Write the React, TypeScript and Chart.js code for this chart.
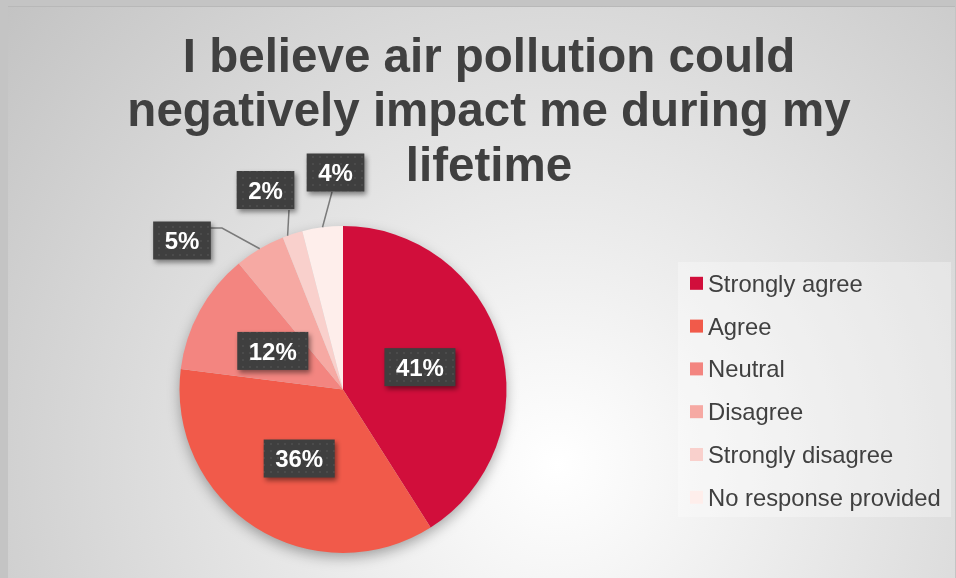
import React, { useEffect, useRef } from "react";
import { Chart, registerables } from "chart.js";

Chart.register(...registerables);

const categories = [
  "Strongly agree",
  "Agree",
  "Neutral",
  "Disagree",
  "Strongly disagree",
  "No response provided",
];
const values = [41, 36, 12, 5, 2, 4];
const valueLabels = ["41%", "36%", "12%", "5%", "2%", "4%"];
const titleLines = [
  "I believe air pollution could",
  "negatively impact me during my",
  "lifetime",
];
const colors = ["#D10E3B", "#F15A4A", "#F38580", "#F6A9A3", "#F9D0CC", "#FEEEEB"];

// label placement (style): inside at a fraction of radius, or outside box with a leader line
type Place =
  | { kind: "in"; r: number }
  | { kind: "out"; box: [number, number]; line: [number, number][]; frac: number };
const labelPlacement: Place[] = [
  { kind: "in", r: 0.49 },
  { kind: "in", r: 0.5 },
  { kind: "in", r: 0.49 },
  { kind: "out", box: [-161, -149], line: [[-133, -161.5], [-121, -161.5]], frac: 0.5 },
  { kind: "out", box: [-77.5, -199.5], line: [[-54, -179.5]], frac: 0.25 },
  { kind: "out", box: [-7.5, -217], line: [[-11, -197.5]], frac: 0.5 },
];

const FONT = '"Liberation Sans", Arial, Helvetica, sans-serif';

function makePattern(ctx: CanvasRenderingContext2D) {
  const c = document.createElement("canvas");
  c.width = 7;
  c.height = 7;
  const p = c.getContext("2d")!;
  p.fillStyle = "#3f3f3f";
  p.fillRect(0, 0, 7, 7);
  p.fillStyle = "#4b4b4b";
  p.fillRect(3, 3, 2, 2);
  return ctx.createPattern(c, "repeat") || "#404040";
}

const decorPlugin = {
  id: "decor",
  beforeDatasetsDraw(chart: any) {
    const ctx: CanvasRenderingContext2D = chart.ctx;
    const arc = chart.getDatasetMeta(0).data[0];
    if (!arc) return;
    const { x, y, outerRadius } = arc.getProps(["x", "y", "outerRadius"], true);
    ctx.save();
    ctx.shadowColor = "rgba(0,0,0,0.35)";
    ctx.shadowBlur = 14;
    ctx.shadowOffsetY = 5;
    ctx.fillStyle = "#cccccc";
    ctx.beginPath();
    ctx.arc(x, y, outerRadius - 1, 0, Math.PI * 2);
    ctx.fill();
    ctx.restore();
  },
  afterDraw(chart: any) {
    const ctx: CanvasRenderingContext2D = chart.ctx;
    const W = chart.width;
    // Title
    ctx.save();
    ctx.fillStyle = "#404040";
    ctx.font = `bold 47.5px ${FONT}`;
    ctx.textAlign = "center";
    ctx.textBaseline = "alphabetic";
    const baselines = [66, 120, 175];
    titleLines.forEach((t, i) => ctx.fillText(t, 481, baselines[i]));
    ctx.restore();

    // Legend
    ctx.save();
    ctx.fillStyle = "rgba(255,255,255,0.3)";
    ctx.fillRect(670, 256, W - 674, 255);
    ctx.font = `23.8px ${FONT}`;
    ctx.textAlign = "left";
    ctx.textBaseline = "alphabetic";
    categories.forEach((c, i) => {
      const cy = 277.3 + i * 42.8;
      ctx.fillStyle = colors[i];
      ctx.fillRect(682, cy - 6.5, 13, 13);
      ctx.fillStyle = "#404040";
      ctx.fillText(c, 700, cy + 8.5);
    });
    ctx.restore();

    // Data labels
    const meta = chart.getDatasetMeta(0);
    const pattern = makePattern(ctx);
    meta.data.forEach((el: any, i: number) => {
      const { x, y, startAngle, endAngle, outerRadius } = el.getProps(
        ["x", "y", "startAngle", "endAngle", "outerRadius"],
        true
      );
      const pl = labelPlacement[i];
      const text = valueLabels[i];
      let bx: number, by: number;
      if (pl.kind === "in") {
        const a = (startAngle + endAngle) / 2;
        bx = x + Math.cos(a) * outerRadius * pl.r;
        by = y + Math.sin(a) * outerRadius * pl.r;
      } else {
        bx = x + pl.box[0];
        by = y + pl.box[1];
        const a = startAngle + (endAngle - startAngle) * pl.frac;
        const ex = x + Math.cos(a) * outerRadius;
        const ey = y + Math.sin(a) * outerRadius;
        ctx.save();
        ctx.strokeStyle = "#7a7a7a";
        ctx.lineWidth = 1.5;
        ctx.beginPath();
        pl.line.forEach((p, k) => {
          if (k === 0) ctx.moveTo(x + p[0], y + p[1]);
          else ctx.lineTo(x + p[0], y + p[1]);
        });
        ctx.lineTo(ex, ey);
        ctx.stroke();
        ctx.restore();
      }
      ctx.save();
      ctx.font = `bold 24px ${FONT}`;
      const tw = ctx.measureText(text).width;
      const bw = tw + 23;
      const bh = 38;
      ctx.shadowColor = "rgba(0,0,0,0.45)";
      ctx.shadowBlur = 5;
      ctx.shadowOffsetX = 2;
      ctx.shadowOffsetY = 3;
      ctx.fillStyle = pattern as any;
      ctx.fillRect(bx - bw / 2, by - bh / 2, bw, bh);
      ctx.shadowColor = "transparent";
      ctx.fillStyle = "#ffffff";
      ctx.textAlign = "center";
      ctx.textBaseline = "alphabetic";
      ctx.fillText(text, bx, by + 8.7);
      ctx.restore();
    });
  },
};

export default function App() {
  const ref = useRef<HTMLCanvasElement>(null);
  useEffect(() => {
    document.body.style.background = "#c4c4c4";
    const chart = new Chart(ref.current!, {
      type: "pie",
      data: {
        labels: categories,
        datasets: [
          {
            data: values,
            backgroundColor: colors,
            borderWidth: 0,
          },
        ],
      },
      options: {
        animation: false,
        responsive: false,
        events: [],
        layout: { padding: { left: 171.5, top: 220, right: 448.5, bottom: 25 } },
        plugins: {
          legend: { display: false },
          title: { display: false },
          tooltip: { enabled: false },
        },
      },
      plugins: [decorPlugin],
    });
    return () => chart.destroy();
  }, []);
  return (
    <div
      style={{
        position: "fixed",
        left: 8,
        top: 6,
        width: 947,
        height: 572,
        boxSizing: "border-box",
        borderTop: "1px solid #b8b8b8",
        background:
          "radial-gradient(circle farthest-corner at 58% 80%, #ffffff 0%, #f7f7f7 14%, #c3c3c3 100%)",
      }}
    >
      <canvas ref={ref} width={947} height={572} style={{ display: "block", position: "absolute", left: 0, top: -1 }} />
    </div>
  );
}
